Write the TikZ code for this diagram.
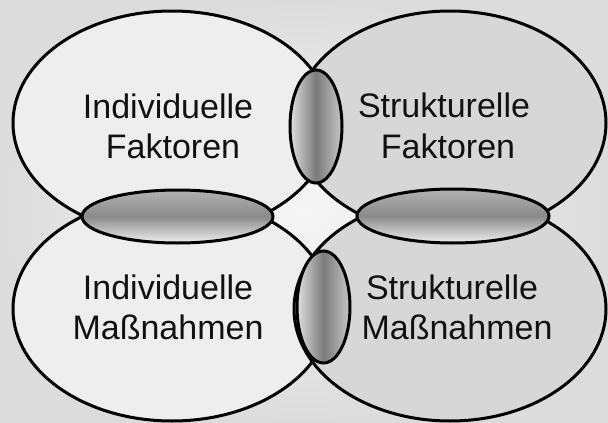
\documentclass[tikz,border=0pt]{standalone}
\usepackage{fontspec}
\setmainfont{Liberation Sans}
\usetikzlibrary{shapes.geometric}
\definecolor{bgouter}{HTML}{DCDCDC}
\definecolor{bginner}{HTML}{F6F6F6}
\definecolor{leftfill}{HTML}{EEEEEE}
\definecolor{rightfill}{HTML}{D7D7D7}
\definecolor{txt}{HTML}{111111}
\begin{document}
\begin{tikzpicture}[x=1pt,y=-1pt,
  big/.style={ellipse, inner sep=0pt, minimum height=224pt},
  bigleft/.style={big, minimum width=318pt, fill=leftfill},
  bigright/.style={big, minimum width=312pt, fill=rightfill},
  outline/.style={draw=black, line width=3pt},
  lensv/.style={ellipse, inner sep=0pt, draw=black, line width=3pt,
    left color=black!12, right color=black!22, middle color=black!52},
  lensh/.style={ellipse, inner sep=0pt, draw=black, line width=3pt,
    top color=black!30, bottom color=black!6, middle color=black!46},
  label/.style={anchor=base, inner sep=0pt, text=txt,
    font=\fontsize{34}{40}\selectfont}]
\useasboundingbox (0,0) rectangle (608,423);
\shade[inner color=bginner, outer color=bgouter] (0,0) rectangle (608,423);
% big ellipses (fills)
\node[bigleft]  (tl) at (172,123) {};
\node[bigright] (tr) at (450,123) {};
\node[bigleft]  (bl) at (172,309) {};
\node[bigright] (br) at (450,309) {};
% outlines of big ellipses
\foreach \n/\w in {tl/318,tr/312,bl/318,br/312}
  \node[big, outline, minimum width=\w pt] at (\n.center) {};
% small lens ellipses
\node[lensv, minimum width=52pt, minimum height=113pt] (vt) at (316,126.5) {};
\node[lensv, minimum width=53pt, minimum height=112pt] (vb) at (323.5,307) {};
\node[lensh, minimum width=191pt, minimum height=53pt] (hl) at (177.5,216.5) {};
\node[lensh, minimum width=192pt, minimum height=54pt] (hr) at (453,216) {};
% texts
\node[label] (tl1) at (168,118) {Individuelle};
\node[label] (tl2) at (173,158) {Faktoren};
\node[label] (tr1) at (444,117) {Strukturelle};
\node[label] (tr2) at (448,158) {Faktoren};
\node[label] (bl1) at (168,299) {Individuelle};
\node[label] (bl2) at (168,339) {Maßnahmen};
\node[label] (br1) at (452,299) {Strukturelle};
\node[label] (br2) at (457,339) {Maßnahmen};
\end{tikzpicture}
\end{document}
